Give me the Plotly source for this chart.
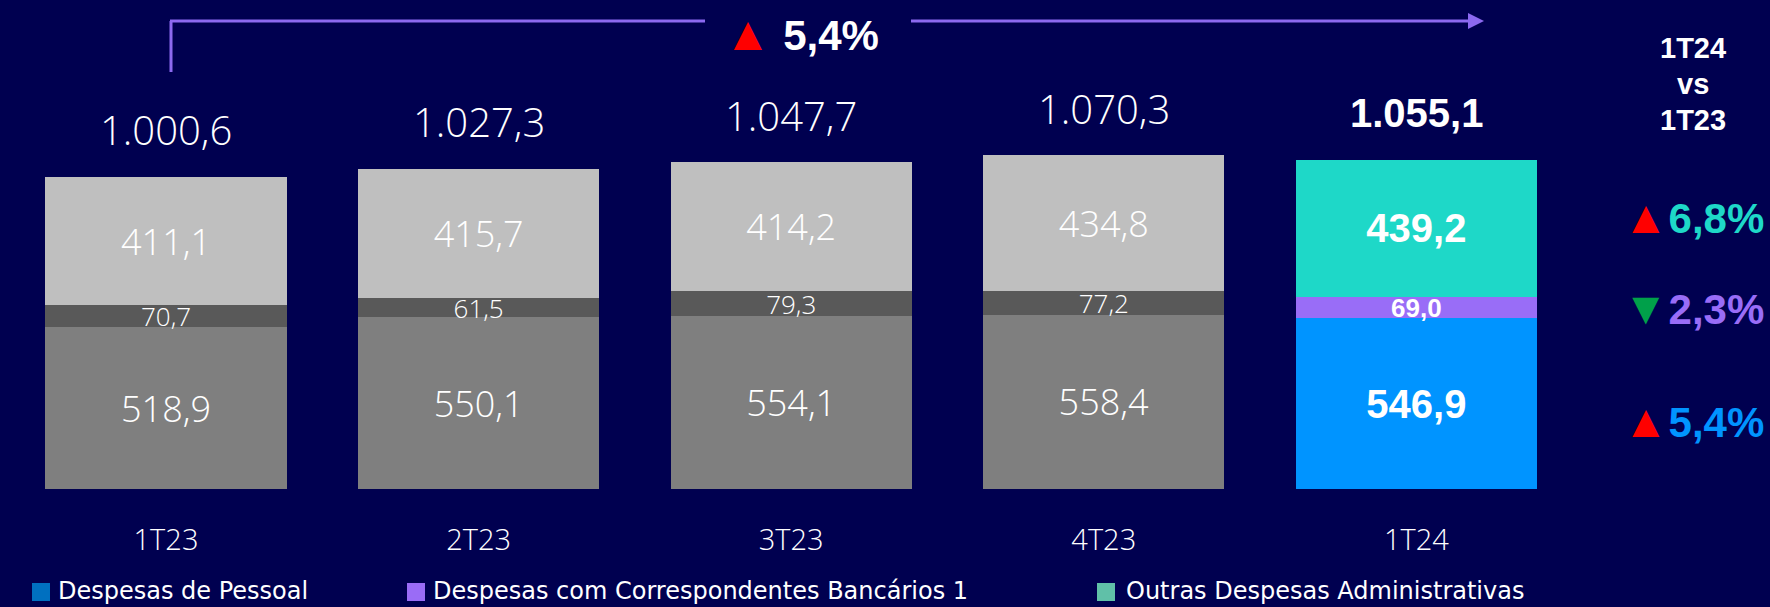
import plotly.graph_objects as go

# ---------------- data ----------------
categories = ["1T23", "2T23", "3T23", "4T23", "1T24"]
pessoal = [518.9, 550.1, 554.1, 558.4, 546.9]
correspondentes = [70.7, 61.5, 79.3, 77.2, 69.0]
outras = [411.1, 415.7, 414.2, 434.8, 439.2]
totais = [1000.6, 1027.3, 1047.7, 1070.3, 1055.1]

series_names = ["Despesas de Pessoal",
                "Despesas com Correspondentes Bancários 1",
                "Outras Despesas Administrativas"]
var_outras, var_corresp, var_pessoal = "6,8%", "2,3%", "5,4%"
var_total = "5,4%"
comparison_title = ["1T24", "vs", "1T23"]

# ---------------- style ----------------
W, H = 1770, 607
PB = 489                      # pixel y of plot bottom
BG = "#000050"
LIGHT = "Open Sans"
BOLD = "Liberation Sans"
grey = {"p": "#7F7F7F", "c": "#595959", "o": "#BFBFBF"}
hi = {"p": "#0094FF", "c": "#996DF7", "o": "#1ED8C8"}
legend_sq = {"p": "#0070C0", "c": "#9A6CF6", "o": "#60C0A8"}
RED, GREEN, LINE = "#FF0000", "#00A04A", "#8C69F0"


def br(v):
    s = f"{v:,.1f}"
    return s.replace(",", "X").replace(".", ",").replace("X", ".")


def fx(x):
    return x / W


def fy(y):
    return (PB - y) / PB


n = len(categories)
fig = go.Figure()
for key, vals, big in (("p", pessoal, True), ("c", correspondentes, False), ("o", outras, True)):
    sz, szb = (36, 40) if big else (26, 26)
    fig.add_trace(go.Bar(
        x=categories, y=vals, width=0.771,
        marker=dict(color=[grey[key]] * (n - 1) + [hi[key]], line=dict(width=0)),
        text=[br(v) for v in vals],
        textposition="inside", insidetextanchor="middle", constraintext="none",
        textfont=dict(color="white", size=[sz] * (n - 1) + [szb],
                      family=[LIGHT] * (n - 1) + [BOLD],
                      weight=[300] * (n - 1) + [700]),
        showlegend=False, hoverinfo="skip",
    ))

ann = []
for i, (c, t) in enumerate(zip(categories, totais)):
    last = i == n - 1
    ann.append(dict(x=c, y=t, xref="x", yref="y", yshift=47, yanchor="middle",
                    text=br(t), showarrow=False,
                    font=dict(family=BOLD if last else LIGHT, size=40,
                              color="white", weight=700 if last else 300)))

# top variation
ann.append(dict(x=fx(722), y=fy(33), xref="paper", yref="paper", xanchor="left", yanchor="middle",
                text=f'<span style="color:{RED};font-size:48px">▲</span> <b>{var_total}</b>', showarrow=False,
                font=dict(family=BOLD, size=42, color="white")))

# comparison title
for txt, yy in zip(comparison_title, (48, 84, 120)):
    ann.append(dict(x=fx(1693), y=fy(yy), xref="paper", yref="paper", xanchor="center", yanchor="middle",
                    text=f"<b>{txt}</b>", showarrow=False,
                    font=dict(family=BOLD, size=29, color="white")))

# variation rows
for txt, col, up, yy in ((var_outras, hi["o"], True, 217),
                         (var_corresp, hi["c"], False, 308),
                         (var_pessoal, hi["p"], True, 421)):
    tri = f'<span style="color:{RED if up else GREEN};font-size:46px">{"▲" if up else "▼"}</span>'
    ann.append(dict(x=fx(1766), y=fy(yy), xref="paper", yref="paper", xanchor="right", yanchor="middle",
                    text=f'{tri}<span style="color:{col}"><b>{txt}</b></span>', showarrow=False,
                    font=dict(family=BOLD, size=42, color=col)))

# legend (manual)
shapes = []
for (key, name), (sx, tx) in zip((("p", series_names[0]), ("c", series_names[1]), ("o", series_names[2])),
                                 ((32, 56), (407, 431), (1097, 1124))):
    shapes.append(dict(type="rect", xref="paper", yref="paper",
                       x0=fx(sx), x1=fx(sx + 18), y0=fy(601), y1=fy(583),
                       fillcolor=legend_sq[key], line=dict(width=0)))
    ann.append(dict(x=fx(tx), y=fy(591), xref="paper", yref="paper", xanchor="left", yanchor="middle",
                    text=name, showarrow=False,
                    font=dict(family="DejaVu Sans", size=24, color="white")))

# bracket + arrow
shapes.append(dict(type="line", xref="paper", yref="paper", x0=fx(171), x1=fx(171), y0=fy(72), y1=fy(21),
                   line=dict(color=LINE, width=3)))
shapes.append(dict(type="line", xref="paper", yref="paper", x0=fx(170), x1=fx(705), y0=fy(21), y1=fy(21),
                   line=dict(color=LINE, width=3)))
shapes.append(dict(type="line", xref="paper", yref="paper", x0=fx(911), x1=fx(1470), y0=fy(21), y1=fy(21),
                   line=dict(color=LINE, width=3)))
shapes.append(dict(type="path", xref="paper", yref="paper",
                   path=f"M {fx(1468)},{fy(13)} L {fx(1484)},{fy(21)} L {fx(1468)},{fy(29)} Z",
                   fillcolor=LINE, line=dict(width=0)))

y_top = totais[-1] * PB / (PB - 160)
fig.update_layout(
    width=W, height=H, barmode="stack",
    paper_bgcolor=BG, plot_bgcolor=BG,
    margin=dict(l=0, r=0, t=0, b=H - PB),
    xaxis=dict(range=[-166 / 312.6, (W - 166) / 312.6], showgrid=False, zeroline=False,
               showline=False, ticks="", ticklabelstandoff=31,
               tickfont=dict(family=LIGHT, size=29, color="white", weight=300)),
    yaxis=dict(range=[0, y_top], visible=False),
    annotations=ann, shapes=shapes,
    font=dict(family=LIGHT, color="white"),
)
fig.write_html("out.html", config={"displayModeBar": False},
               post_script="document.body.style.margin='0';document.body.style.overflow='hidden';"
                           "document.body.style.background='" + BG + "';")
